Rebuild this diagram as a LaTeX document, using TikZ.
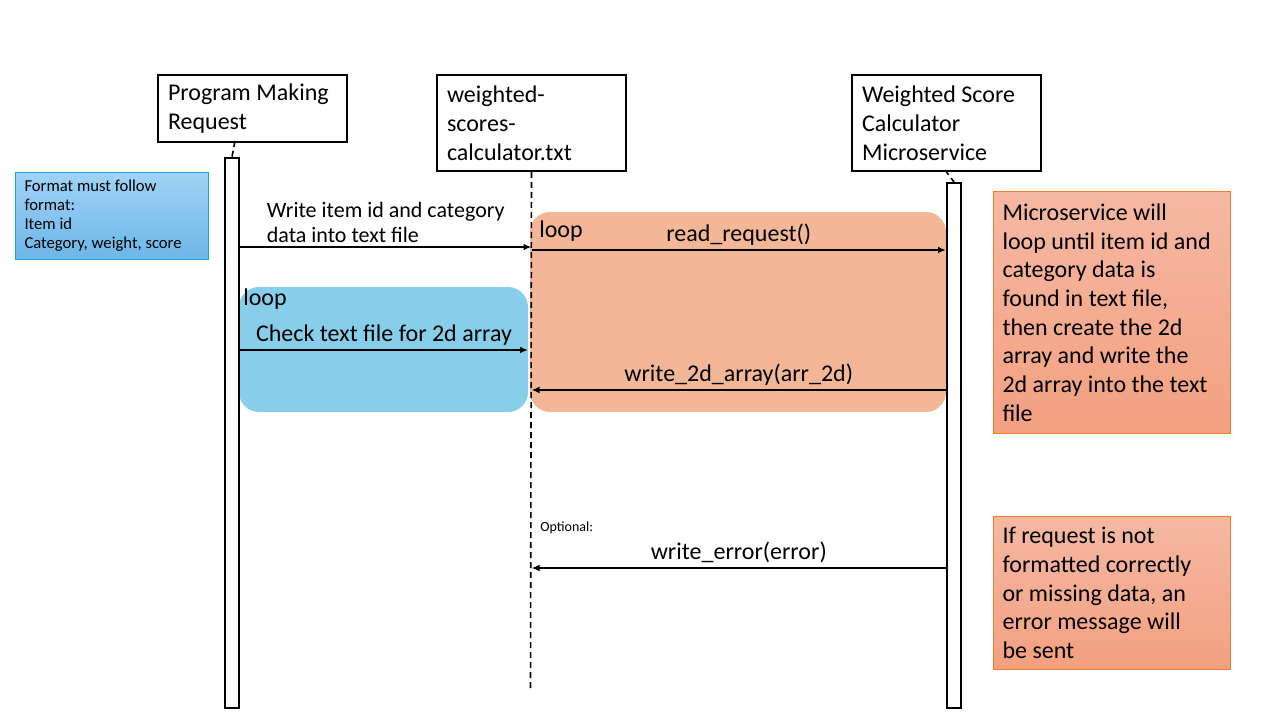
\documentclass[tikz,border=0pt]{standalone}
\usepackage{fontspec}
\setmainfont{Carlito}
\usetikzlibrary{arrows.meta}

\begin{document}
\begin{tikzpicture}[x=0.75pt, y=-0.75pt,
    actor/.style={draw, line width=1.5pt, align=flush left, inner xsep=7.5pt,
        minimum width=141.75pt, text width=126.75pt, anchor=north west,
        font=\fontsize{18}{21.75}\selectfont},
    activation/.style={draw, line width=1.5pt, fill=white, minimum width=10.5pt,
        inner sep=0pt, anchor=north west},
    lifeline/.style={line width=1.2pt, dash pattern=on 4.5pt off 3pt},
    msg/.style={line width=1.2pt, -{Latex[length=6pt, width=5pt]}},
    msglabel/.style={font=\fontsize{18}{21}\selectfont, inner sep=3pt},
    notebox/.style={draw=noteborder, line width=0.8pt, top color=notetop,
        bottom color=notebottom, align=flush left, anchor=north west, inner xsep=6.75pt,
        minimum width=177.75pt, text width=164.25pt,
        font=\fontsize{18}{21.5}\selectfont},
    loopbox/.style={rounded corners=15pt}
]

    % Define colors
    \definecolor{loopsalmon}{RGB}{243,183,152}
    \definecolor{loopblue}{RGB}{135,206,235}
    \definecolor{notetop}{RGB}{245,184,163}
    \definecolor{notebottom}{RGB}{243,160,128}
    \definecolor{noteborder}{RGB}{237,125,49}
    \definecolor{infotop}{RGB}{160,210,246}
    \definecolor{infobottom}{RGB}{108,182,232}
    \definecolor{infoborder}{RGB}{31,160,220}

    \useasboundingbox (0,0) rectangle (1280,720);

    % Loop regions
    \fill[loopsalmon, loopbox] (530,212) rectangle (946,412);
    \fill[loopblue, loopbox] (239,287) rectangle (528,412);
    \node[anchor=west, font=\fontsize{18}{21}\selectfont, inner sep=0pt] (loopa) at (539,231) {loop};
    \node[anchor=west, font=\fontsize{18}{21}\selectfont, inner sep=0pt] (loopb) at (243,299) {loop};

    % Actors
    \node[actor, minimum height=50.25pt] (prog) at (157,74) {Program Making\\Request};
    \node[actor, minimum height=72pt] (file) at (436,74) {weighted-\\scores-\\calculator.txt};
    \node[actor, minimum height=72pt] (calc) at (851,74) {Weighted Score\\Calculator\\Microservice};

    % Activation bars and lifelines
    \node[activation, minimum height=412.5pt] (progbar) at (224,157) {};
    \node[activation, minimum height=393.75pt] (calcbar) at (946,182) {};
    \coordinate (progtop) at (235,141);
    \coordinate (calctop) at (945,170);
    \coordinate (fileend) at (530.5,690);
    \draw[lifeline] (progtop) -- (progbar.north);
    \draw[lifeline] (calctop) -- (calcbar.north);
    \draw[lifeline] (file.south) -- (fileend);

    % Info note
    \node[draw=infoborder, line width=0.8pt, top color=infotop, bottom color=infobottom,
        align=flush left, anchor=north west, inner xsep=6.75pt, minimum width=144.75pt,
        minimum height=65.25pt, text width=131.25pt, font=\fontsize{12.5}{14.25}\selectfont]
        (format) at (15,172) {Format must follow\\format:\\Item id\\Category, weight, score};

    % Messages
    \draw[msg] (progbar.east |- 0,247) -- (file.south |- 0,247)
        node[midway, above, msglabel, align=left, font=\fontsize{16.5}{18.75}\selectfont]
        {Write item id and category\\data into text file};
    \draw[msg] (file.south |- 0,250) -- (calcbar.west |- 0,250)
        node[midway, above, msglabel] {read\_request()};
    \draw[msg] (progbar.east |- 0,350) -- (528,350)
        node[midway, above, msglabel] {Check text file for 2d array};
    \draw[msg] (calcbar.west |- 0,390) -- (file.south |- 0,390)
        node[midway, above, msglabel] {write\_2d\_array(arr\_2d)};
    \node[anchor=west, inner sep=0pt, font=\fontsize{10.5}{12}\selectfont] (optional) at (540,528) {Optional:};
    \draw[msg] (calcbar.west |- 0,568) -- (file.south |- 0,568)
        node[midway, above, msglabel] {write\_error(error)};

    % Side notes
    \node[notebox, minimum height=181.5pt] (loopnote) at (993,191)
        {Microservice will\\loop until item id and\\category data is\\found in text file,\\then create the 2d\\array and write the\\2d array into the text\\file};
    \node[notebox, minimum height=114.75pt] (errornote) at (993,516)
        {If request is not\\formatted correctly\\or missing data, an\\error message will\\be sent};

\end{tikzpicture}
\end{document}
